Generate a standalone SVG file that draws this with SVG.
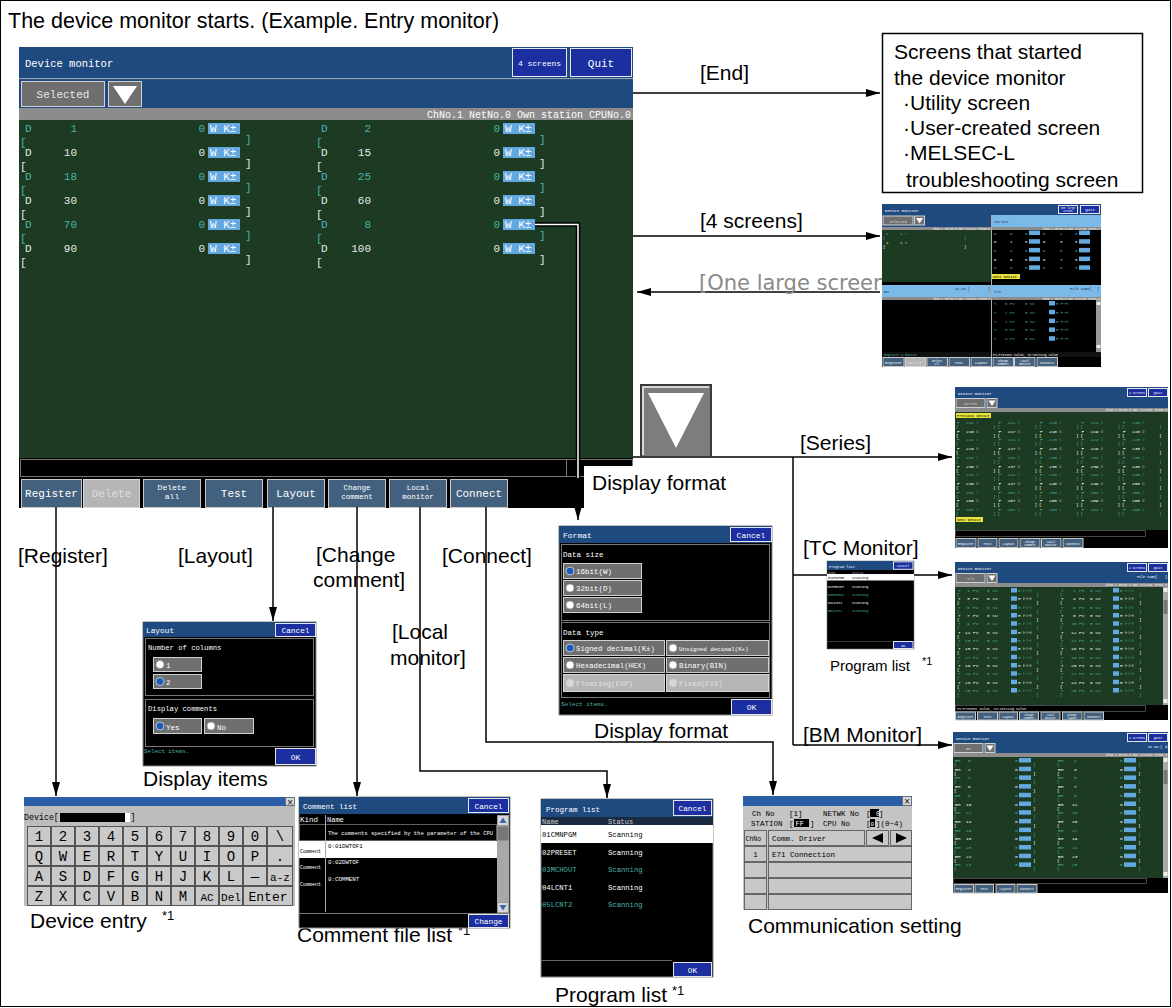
<svg xmlns="http://www.w3.org/2000/svg" width="1172" height="1008" viewBox="0 0 1172 1008">
<defs>
<style>
.l{font-family:"Liberation Sans",Arial,sans-serif;font-size:21px;fill:#000}
.sup{font-family:"Liberation Sans",Arial,sans-serif;font-size:13px;fill:#000}
.m{font-family:"Liberation Mono","DejaVu Sans Mono",monospace}
.w{fill:#fff}
.t{fill:#4db3a8}
.k{fill:#000}
.hd{fill:#1f4a80}
.bb{fill:#1c2fa0;stroke:#e6e6e6;stroke-width:1}
.sb{fill:#43617e;stroke:#c8c8c8;stroke-width:1}
.gb{fill:#6f6f6f;stroke:#d0d0d0;stroke-width:1}
.lg{fill:#b5b5b5;stroke:#d8d8d8;stroke-width:1}
.grn{fill:#1c3b22}
.vb{fill:#63a9e0}
.lb{fill:#7ab9e8}
.yl{fill:#e8e23c}
.gbar{fill:#8c8c8c}
.c{stroke:#000;stroke-width:1.5;fill:none}
.key{fill:#c9c9c9;stroke:#555;stroke-width:1}
.cell{fill:#c8c8c8;stroke:#666;stroke-width:1}
</style>
<marker id="ah" viewBox="0 0 14 8" refX="14" refY="4" markerWidth="14" markerHeight="8" markerUnits="userSpaceOnUse" orient="auto"><path d="M0,0 L14,4 L0,8 z" fill="#000"/></marker>
<g id="srow">
<text class="m" font-size="4.4"><tspan x="957" y="0">F</tspan><tspan x="976">○</tspan><tspan x="998.5">F</tspan><tspan x="1017.5">○</tspan><tspan x="1040">F</tspan><tspan x="1059">○</tspan><tspan x="1081.5">F</tspan><tspan x="1100.5">○</tspan><tspan x="1123">F</tspan><tspan x="1142">○</tspan><tspan x="956" y="4">[</tspan><tspan x="993">]</tspan><tspan x="997.5">[</tspan><tspan x="1034.5">]</tspan><tspan x="1039">[</tspan><tspan x="1076">]</tspan><tspan x="1080.5">[</tspan><tspan x="1117.5">]</tspan><tspan x="1122">[</tspan><tspan x="1159">]</tspan></text>
</g>
<g id="tcrow">
<rect x="1011" y="-4" width="6" height="4.5" class="vb"/>
<rect x="1113" y="-4" width="6" height="4.5" class="vb"/>
<text class="m" font-size="4.4"><tspan x="958" y="0">T</tspan><tspan x="973">PV</tspan><tspan x="987">0 SV</tspan><tspan x="1018">H ⊢○⊣</tspan><tspan x="1061">T</tspan><tspan x="1079">PV</tspan><tspan x="1090">0 SV</tspan><tspan x="1120">H ⊢○⊣</tspan><tspan x="957" y="4">[</tspan><tspan x="1036">]</tspan><tspan x="1060">[</tspan><tspan x="1139">]</tspan></text>
</g>
<g id="bmrow">
<rect x="1019" y="-4" width="12" height="4.5" class="vb"/>
<rect x="1124" y="-4" width="12" height="4.5" class="vb"/>
<text class="m" font-size="4.4"><tspan x="955" y="0">BM</tspan><tspan x="1015">0</tspan><tspan x="1058">BM</tspan><tspan x="1120">0</tspan><tspan x="954" y="4">[</tspan><tspan x="1033">]</tspan><tspan x="1057">[</tspan><tspan x="1138">]</tspan></text>
</g>
</defs>

<rect x="0" y="0" width="1172" height="1008" fill="#fff"/>
<rect x="0.5" y="0.5" width="1170" height="1006" fill="none" stroke="#000" stroke-width="1"/>

<g id="title">
<text x="8" y="28" class="l" style="font-size:21.5px">The device monitor starts. (Example. Entry monitor)</text>
</g>

<g id="main-screen">
<rect x="19" y="47" width="614" height="461" fill="#000"/>
<rect x="19" y="47" width="614" height="31" class="hd"/>
<text x="25" y="67" class="m w" font-size="10.5">Device monitor</text>
<rect x="512.5" y="48.5" width="54" height="28" class="bb"/>
<text x="539.5" y="66" class="m w" font-size="8" text-anchor="middle">4 screens</text>
<rect x="570.5" y="48.5" width="61" height="28" class="bb"/>
<text x="601" y="67" class="m w" font-size="11" text-anchor="middle">Quit</text>
<rect x="19" y="78" width="614" height="1.5" fill="#8fa6c0"/>
<rect x="19" y="79.5" width="614" height="28.5" class="hd"/>
<rect x="21.5" y="81.5" width="83" height="25" class="gb" stroke-width="1.5"/>
<text x="63" y="98" class="m" fill="#e8e8e8" font-size="11" text-anchor="middle">Selected</text>
<rect x="108.5" y="81.5" width="33" height="25" class="gb" stroke-width="1.5"/>
<polygon points="113,86 137,86 125,104" fill="#fff"/>
<rect x="19" y="108" width="614" height="12" class="gbar"/>
<text x="631" y="118" class="m w" font-size="10" text-anchor="end">ChNo.1 NetNo.0 Own station CPUNo.0</text>
<rect x="19" y="120" width="614" height="338" class="grn"/>
<g class="m" font-size="11">
<rect x="208" y="123" width="32" height="11" class="vb"/><rect x="503" y="123" width="32" height="11" class="vb"/>
<rect x="208" y="147" width="32" height="11" class="vb"/><rect x="503" y="147" width="32" height="11" class="vb"/>
<rect x="208" y="171" width="32" height="11" class="vb"/><rect x="503" y="171" width="32" height="11" class="vb"/>
<rect x="208" y="195" width="32" height="11" class="vb"/><rect x="503" y="195" width="32" height="11" class="vb"/>
<rect x="208" y="219" width="32" height="11" class="vb"/><rect x="503" y="219" width="32" height="11" class="vb"/>
<rect x="208" y="243" width="32" height="11" class="vb"/><rect x="503" y="243" width="32" height="11" class="vb"/>
<g class="w">
<text x="210" y="132">W K±</text><text x="505" y="132">W K±</text>
<text x="210" y="156">W K±</text><text x="505" y="156">W K±</text>
<text x="210" y="180">W K±</text><text x="505" y="180">W K±</text>
<text x="210" y="204">W K±</text><text x="505" y="204">W K±</text>
<text x="210" y="228">W K±</text><text x="505" y="228">W K±</text>
<text x="210" y="252">W K±</text><text x="505" y="252">W K±</text>
</g>
<g class="t">
<text x="25" y="132">D</text><text x="77" y="132" text-anchor="end">1</text><text x="205" y="132" text-anchor="end">0</text><text x="20" y="146">[</text><text x="245" y="143">]</text>
<text x="321" y="132">D</text><text x="371" y="132" text-anchor="end">2</text><text x="500" y="132" text-anchor="end">0</text><text x="316" y="146">[</text><text x="539" y="143">]</text>
<text x="25" y="180">D</text><text x="77" y="180" text-anchor="end">18</text><text x="205" y="180" text-anchor="end">0</text><text x="20" y="194">[</text><text x="245" y="191">]</text>
<text x="321" y="180">D</text><text x="371" y="180" text-anchor="end">25</text><text x="500" y="180" text-anchor="end">0</text><text x="316" y="194">[</text><text x="539" y="191">]</text>
<text x="25" y="228">D</text><text x="77" y="228" text-anchor="end">70</text><text x="205" y="228" text-anchor="end">0</text><text x="20" y="242">[</text><text x="245" y="239">]</text>
<text x="321" y="228">D</text><text x="371" y="228" text-anchor="end">8</text><text x="500" y="228" text-anchor="end">0</text><text x="316" y="242">[</text><text x="539" y="239">]</text>
</g>
<g fill="#e8e8e8">
<text x="25" y="156">D</text><text x="77" y="156" text-anchor="end">10</text><text x="205" y="156" text-anchor="end">0</text><text x="20" y="170">[</text><text x="245" y="167">]</text>
<text x="321" y="156">D</text><text x="371" y="156" text-anchor="end">15</text><text x="500" y="156" text-anchor="end">0</text><text x="316" y="170">[</text><text x="539" y="167">]</text>
<text x="25" y="204">D</text><text x="77" y="204" text-anchor="end">30</text><text x="205" y="204" text-anchor="end">0</text><text x="20" y="218">[</text><text x="245" y="215">]</text>
<text x="321" y="204">D</text><text x="371" y="204" text-anchor="end">60</text><text x="500" y="204" text-anchor="end">0</text><text x="316" y="218">[</text><text x="539" y="215">]</text>
<text x="25" y="252">D</text><text x="77" y="252" text-anchor="end">90</text><text x="205" y="252" text-anchor="end">0</text><text x="20" y="266">[</text><text x="245" y="263">]</text>
<text x="321" y="252">D</text><text x="371" y="252" text-anchor="end">100</text><text x="500" y="252" text-anchor="end">0</text><text x="316" y="266">[</text><text x="539" y="263">]</text>
</g>
</g>
<rect x="20.5" y="459.5" width="546" height="17" fill="#000" stroke="#777"/>
<rect x="566.5" y="459.5" width="66" height="17" fill="#000" stroke="#777"/>
<rect x="21.5" y="479.5" width="60" height="28" class="sb"/>
<rect x="83.5" y="479.5" width="56" height="28" class="lg"/>
<rect x="143.5" y="479.5" width="57" height="28" class="sb"/>
<rect x="205.5" y="479.5" width="57" height="28" class="sb"/>
<rect x="267.5" y="479.5" width="57" height="28" class="sb"/>
<rect x="328.5" y="479.5" width="57" height="28" class="sb"/>
<rect x="389.5" y="479.5" width="57" height="28" class="sb"/>
<rect x="450.5" y="479.5" width="57" height="28" class="sb"/>
<g class="m w" font-size="11" text-anchor="middle">
<text x="51.5" y="497">Register</text>
<text x="111.5" y="497" fill="#dedede">Delete</text>
<text x="172" y="490" font-size="8">Delete</text><text x="172" y="499" font-size="8">all</text>
<text x="234" y="497">Test</text>
<text x="296" y="497">Layout</text>
<text x="357" y="490" font-size="7.5">Change</text><text x="357" y="499" font-size="7.5">comment</text>
<text x="418" y="490" font-size="7.5">Local</text><text x="418" y="499" font-size="7.5">monitor</text>
<text x="479" y="497">Connect</text>
</g>
</g>

<g id="connectors">
<path class="c" d="M633,93 H880" marker-end="url(#ah)"/>
<path class="c" d="M633,236 H880" marker-end="url(#ah)"/>
<path class="c" d="M880,292 H637" marker-end="url(#ah)"/>
<path class="c" d="M633,457 H952" marker-end="url(#ah)"/>
<path class="c" d="M793,457 V745"/>
<path class="c" d="M793,575 H952" marker-end="url(#ah)"/>
<path class="c" d="M793,745 H952" marker-end="url(#ah)"/>
<path d="M535,224.5 H578 V478" fill="none" stroke="#000" stroke-width="4.5"/>
<path d="M535,224.5 H578 V478" fill="none" stroke="#fff" stroke-width="1.5"/>
<path class="c" d="M578,478 V520" marker-end="url(#ah)"/>
<path class="c" d="M56,507 V796" marker-end="url(#ah)"/>
<path class="c" d="M273,507 V621" marker-end="url(#ah)"/>
<path class="c" d="M357,507 V796" marker-end="url(#ah)"/>
<path class="c" d="M420,507 V771 H607 V798" marker-end="url(#ah)"/>
<path class="c" d="M486,507 V742 H773 V795" marker-end="url(#ah)"/>
</g>

<g id="labels">
<rect x="584" y="466" width="50" height="42" fill="#fff"/>
<text x="592" y="490" class="l">Display format</text>
<text x="700" y="80" class="l">[End]</text>
<text x="700" y="228" class="l">[4 screens]</text>
<text x="699" y="290" font-family="'DejaVu Sans',sans-serif" font-size="21" fill="#8a8a8a">[One large screen</text>
<text x="800" y="450" class="l">[Series]</text>
<text x="803" y="555" class="l">[TC Monitor]</text>
<text x="803" y="742" class="l">[BM Monitor]</text>
<text x="18" y="563" class="l">[Register]</text>
<text x="178" y="563" class="l">[Layout]</text>
<text x="316" y="562" class="l">[Change</text>
<text x="313" y="587" class="l">comment]</text>
<text x="442" y="563" class="l">[Connect]</text>
<text x="392" y="639" class="l">[Local</text>
<text x="390" y="665" class="l">monitor]</text>
<text x="830" y="671" class="l" style="font-size:15px">Program list</text><text x="922" y="665" class="sup" style="font-size:11px">*1</text>
<text x="143" y="786" class="l">Display items</text>
<text x="594" y="738" class="l">Display format</text>
<text x="30" y="928" class="l">Device entry</text><text x="162" y="920" class="sup">*1</text>
<text x="297" y="942" class="l">Comment file list</text><text x="458" y="935" class="sup">*1</text>
<text x="555" y="1002" class="l">Program list</text><text x="672" y="995" class="sup">*1</text>
<text x="748" y="933" class="l">Communication setting</text>
</g>

<g id="end-box">
<rect x="882.5" y="33.5" width="260" height="159" fill="#fff" stroke="#000" stroke-width="1.5"/>
<text x="894" y="59" class="l">Screens that started</text>
<text x="894" y="85" class="l">the device monitor</text>
<text x="903" y="110" class="l">·Utility screen</text>
<text x="903" y="135" class="l">·User-created screen</text>
<text x="903" y="160" class="l">·MELSEC-L</text>
<text x="906" y="187" class="l">troubleshooting screen</text>
</g>

<g id="four-screens">
<rect x="882" y="204" width="219" height="163" fill="#000"/>
<rect x="882" y="204" width="219" height="11" class="hd"/>
<text x="885" y="211.5" class="m w" font-size="4">Device monitor</text>
<rect x="1058.5" y="205.5" width="19" height="8" class="bb" stroke-width="0.5"/>
<text x="1068" y="209" class="m w" font-size="2.6" text-anchor="middle">One large</text><text x="1068" y="212" class="m w" font-size="2.6" text-anchor="middle">screen</text>
<rect x="1080.5" y="205.5" width="19" height="8" class="bb" stroke-width="0.5"/>
<text x="1090" y="211" class="m w" font-size="4" text-anchor="middle">Quit</text>
<rect x="882" y="215" width="109" height="12" class="hd"/>
<rect x="883" y="216" width="30" height="9" class="gb" stroke-width="0.5"/>
<text x="898" y="222.5" class="m" fill="#ddd" font-size="3.6" text-anchor="middle">Selected</text>
<rect x="914.5" y="216" width="10" height="9" class="gb" stroke-width="0.5"/>
<polygon points="916,218 923,218 919.5,223.5" fill="#fff"/>
<rect x="882" y="227" width="109" height="3" class="gbar"/>
<text x="990" y="229.6" class="m w" font-size="2.8" text-anchor="end">ChNo.1 NetNo.0 Own station CPUNo.0</text>
<rect x="882" y="230" width="109" height="52" class="grn"/>
<text x="886" y="234.5" class="m t" font-size="4">X</text><text x="900" y="234.5" class="m t" font-size="4">1 ○</text><text x="964" y="239" class="m t" font-size="4">]</text><text x="883" y="239" class="m t" font-size="4">[</text>
<text x="886" y="243.5" class="m w" font-size="4">X</text><text x="900" y="243.5" class="m w" font-size="4">2 ○</text><text x="964" y="248" class="m w" font-size="4">]</text><text x="883" y="248" class="m w" font-size="4">[</text>
<rect x="992" y="215" width="109" height="12" class="lb"/>
<text x="994" y="222.5" class="m" fill="#1f3050" font-size="4">Series</text>
<rect x="992" y="227" width="109" height="3" class="gbar"/>
<text x="1100" y="229.6" class="m w" font-size="2.8" text-anchor="end">ChNo.1 NetNo.0 Own station CPUNo.1</text>
<g class="m" font-size="4">
<rect x="1029" y="230.5" width="11" height="4.5" class="vb"/><rect x="1079" y="230.5" width="11" height="4.5" class="vb"/>
<rect x="1029" y="239.2" width="11" height="4.5" class="vb"/><rect x="1079" y="239.2" width="11" height="4.5" class="vb"/>
<rect x="1029" y="247.9" width="11" height="4.5" class="vb"/><rect x="1079" y="247.9" width="11" height="4.5" class="vb"/>
<rect x="1029" y="256.6" width="11" height="4.5" class="vb"/><rect x="1079" y="256.6" width="11" height="4.5" class="vb"/>
<rect x="1029" y="265.3" width="11" height="4.5" class="vb"/><rect x="1079" y="265.3" width="11" height="4.5" class="vb"/>
<text y="234.5" class="t"><tspan x="994">D</tspan><tspan x="1010">0</tspan><tspan x="1025">0</tspan><tspan x="1043">D</tspan><tspan x="1060">1</tspan><tspan x="1075">0</tspan></text>
<text y="243.2" class="w"><tspan x="994">D</tspan><tspan x="1010">2</tspan><tspan x="1025">0</tspan><tspan x="1043">D</tspan><tspan x="1060">3</tspan><tspan x="1075">0</tspan></text>
<text y="251.9" class="t"><tspan x="994">D</tspan><tspan x="1010">4</tspan><tspan x="1025">0</tspan><tspan x="1043">D</tspan><tspan x="1060">5</tspan><tspan x="1075">0</tspan></text>
<text y="260.6" class="w"><tspan x="994">D</tspan><tspan x="1010">6</tspan><tspan x="1025">0</tspan><tspan x="1043">D</tspan><tspan x="1060">7</tspan><tspan x="1075">0</tspan></text>
<text y="269.3" class="t"><tspan x="994">D</tspan><tspan x="1010">8</tspan><tspan x="1025">0</tspan><tspan x="1043">D</tspan><tspan x="1060">9</tspan><tspan x="1075">0</tspan></text>
</g>
<rect x="992" y="274" width="28" height="5" class="yl"/>
<text x="993" y="278" class="m k" font-size="3.6">Next Device</text>
<rect x="882" y="282" width="219" height="3" fill="#000"/>
<rect x="882" y="285" width="109" height="12" class="lb"/>
<text x="884" y="292.5" class="m" fill="#1f3050" font-size="4">BM</text>
<text x="970" y="290" class="m" fill="#1f3050" font-size="3.6" text-anchor="end">US No.[</text><text x="988" y="290" class="m" fill="#1f3050" font-size="3.6">]</text>
<rect x="882" y="297" width="109" height="3" class="gbar"/>
<text x="990" y="299.6" class="m w" font-size="2.8" text-anchor="end">ChNo.1 NetNo.0 Own station CPUNo.0</text>
<rect x="882" y="352" width="219" height="5" fill="#111"/>
<text x="884" y="356" class="m t" font-size="3.2">Register a device.</text>
<rect x="992" y="285" width="109" height="12" class="lb"/>
<text x="994" y="292.5" class="m" fill="#1f3050" font-size="4">T/C</text>
<text x="1070" y="290" class="m" fill="#1f3050" font-size="3.6">File name[</text><text x="1097" y="290" class="m" fill="#1f3050" font-size="3.6">]</text>
<rect x="992" y="297" width="109" height="3" class="gbar"/>
<text x="1100" y="299.6" class="m w" font-size="2.8" text-anchor="end">ChNo.1 NetNo.0 Own station CPUNo.0</text>
<rect x="1096" y="300" width="5" height="52" fill="#999"/>
<rect x="1096.5" y="302" width="4" height="3" fill="#eee"/><rect x="1096.5" y="345" width="4" height="3" fill="#eee"/>
<g class="m t" font-size="4">
<rect x="1049" y="301" width="6" height="4.5" class="vb"/><rect x="1049" y="309.8" width="6" height="4.5" class="vb"/><rect x="1049" y="318.6" width="6" height="4.5" class="vb"/><rect x="1049" y="327.4" width="6" height="4.5" class="vb"/><rect x="1049" y="336.2" width="6" height="4.5" class="vb"/>
<text y="305"><tspan x="994">T</tspan><tspan x="1005">0 PV</tspan><tspan x="1025">0 SV</tspan><tspan x="1056">H ⊢○⊣</tspan></text>
<text y="313.8"><tspan x="994">T</tspan><tspan x="1005">1 PV</tspan><tspan x="1025">0 SV</tspan><tspan x="1056">H ⊢○⊣</tspan></text>
<text y="322.6"><tspan x="994">T</tspan><tspan x="1005">2 PV</tspan><tspan x="1025">0 SV</tspan><tspan x="1056">H ⊢○⊣</tspan></text>
<text y="331.4"><tspan x="994">T</tspan><tspan x="1005">3 PV</tspan><tspan x="1025">0 SV</tspan><tspan x="1056">H ⊢○⊣</tspan></text>
<text y="340.2"><tspan x="994">T</tspan><tspan x="1005">4 PV</tspan><tspan x="1025">0 SV</tspan><tspan x="1056">H ⊢○⊣</tspan></text>
</g>
<text x="993" y="356" class="m w" font-size="3.2">PV:Present value, SV:Setting value</text>
<line x1="991.5" y1="215" x2="991.5" y2="357" stroke="#aaa" stroke-width="1"/>
<g stroke-width="0.5">
<rect x="883" y="357.5" width="21" height="9" class="sb"/><rect x="905" y="357.5" width="21" height="9" class="lg"/><rect x="927" y="357.5" width="20.5" height="9" class="sb"/><rect x="949" y="357.5" width="20.5" height="9" class="sb"/><rect x="971" y="357.5" width="20.5" height="9" class="sb"/><rect x="993" y="357.5" width="20.5" height="9" class="sb"/><rect x="1014.5" y="357.5" width="20.5" height="9" class="sb"/><rect x="1037" y="357.5" width="20.5" height="9" class="sb"/>
</g>
<g class="m w" font-size="3.5" text-anchor="middle">
<text x="893.5" y="363.5">Register</text><text x="915.5" y="363.5" fill="#ddd">Delete</text><text x="937" y="361.5" font-size="2.8">Delete</text><text x="937" y="365" font-size="2.8">all</text><text x="959" y="363.5">Test</text><text x="981" y="363.5">Layout</text><text x="1003" y="361.5" font-size="2.8">Change</text><text x="1003" y="365" font-size="2.8">comment</text><text x="1025" y="361.5" font-size="2.8">Local</text><text x="1025" y="365" font-size="2.8">monitor</text><text x="1047" y="363.5">Connect</text>
</g>
</g>

<g id="big-triangle-button">
<rect x="641" y="385" width="70" height="72" fill="#7d7d7d" stroke="#3a3a3a" stroke-width="2"/>
<path d="M643,455 V387 H709" fill="none" stroke="#d8d8d8" stroke-width="2"/>
<polygon points="648,393 704,393 676,448" fill="#fff"/>
</g>

<g id="series-screen">
<rect x="955" y="387" width="213" height="161" fill="#000"/>
<rect x="955" y="387" width="213" height="11" class="hd"/>
<text x="958" y="394.5" class="m w" font-size="4">Device monitor</text>
<rect x="1127.5" y="388.5" width="19" height="8" class="bb" stroke-width="0.5"/><text x="1137" y="394" class="m w" font-size="3" text-anchor="middle">4 screens</text>
<rect x="1148.5" y="388.5" width="19" height="8" class="bb" stroke-width="0.5"/><text x="1158" y="394" class="m w" font-size="3.6" text-anchor="middle">Quit</text>
<rect x="955" y="398" width="213" height="10" class="hd"/>
<rect x="956" y="398.5" width="29" height="9" class="gb" stroke-width="0.5"/><text x="970.5" y="404.5" class="m" fill="#ddd" font-size="3.8" text-anchor="middle">Series</text>
<rect x="987" y="398.5" width="10" height="9" class="gb" stroke-width="0.5"/><polygon points="988.5,400.5 995.5,400.5 992,406" fill="#fff"/>
<rect x="955" y="408" width="213" height="4" class="gbar"/>
<text x="1167" y="411.2" class="m w" font-size="3" text-anchor="end">ChNo.1 NetNo.0 Own station CPUNo.0</text>
<rect x="955" y="412" width="213" height="118" class="grn"/>
<rect x="956" y="413" width="35" height="5" class="yl"/><text x="957" y="417" class="m k" font-size="3.6">Previous Device</text>
<use href="#srow" y="424" class="t"/><use href="#srow" y="432.7" class="w"/><use href="#srow" y="441.4" class="t"/><use href="#srow" y="450.1" class="w"/><use href="#srow" y="458.8" class="t"/><use href="#srow" y="467.5" class="w"/><use href="#srow" y="476.2" class="t"/><use href="#srow" y="484.9" class="w"/><use href="#srow" y="493.6" class="t"/><use href="#srow" y="502.3" class="w"/><use href="#srow" y="511" class="t"/>
<g class="m" font-size="4.4">
<text y="424" class="t"><tspan x="966">211</tspan><tspan x="1007.5">212</tspan><tspan x="1049">213</tspan><tspan x="1090.5">214</tspan><tspan x="1132">215</tspan></text>
<text y="432.7" class="w"><tspan x="966">216</tspan><tspan x="1007.5">217</tspan><tspan x="1049">218</tspan><tspan x="1090.5">219</tspan><tspan x="1132">220</tspan></text>
<text y="441.4" class="t"><tspan x="966">221</tspan><tspan x="1007.5">222</tspan><tspan x="1049">223</tspan><tspan x="1090.5">224</tspan><tspan x="1132">225</tspan></text>
<text y="450.1" class="w"><tspan x="966">226</tspan><tspan x="1007.5">227</tspan><tspan x="1049">228</tspan><tspan x="1090.5">229</tspan><tspan x="1132">230</tspan></text>
<text y="458.8" class="t"><tspan x="966">231</tspan><tspan x="1007.5">232</tspan><tspan x="1049">233</tspan><tspan x="1090.5">234</tspan><tspan x="1132">235</tspan></text>
<text y="467.5" class="w"><tspan x="966">236</tspan><tspan x="1007.5">237</tspan><tspan x="1049">238</tspan><tspan x="1090.5">239</tspan><tspan x="1132">240</tspan></text>
<text y="476.2" class="t"><tspan x="966">241</tspan><tspan x="1007.5">242</tspan><tspan x="1049">243</tspan><tspan x="1090.5">244</tspan><tspan x="1132">245</tspan></text>
<text y="484.9" class="w"><tspan x="966">246</tspan><tspan x="1007.5">247</tspan><tspan x="1049">248</tspan><tspan x="1090.5">249</tspan><tspan x="1132">250</tspan></text>
<text y="493.6" class="t"><tspan x="966">251</tspan><tspan x="1007.5">252</tspan><tspan x="1049">253</tspan><tspan x="1090.5">254</tspan><tspan x="1132">255</tspan></text>
<text y="502.3" class="w"><tspan x="966">256</tspan><tspan x="1007.5">257</tspan><tspan x="1049">258</tspan><tspan x="1090.5">259</tspan><tspan x="1132">260</tspan></text>
<text y="511" class="t"><tspan x="966">261</tspan><tspan x="1007.5">262</tspan><tspan x="1049">263</tspan><tspan x="1090.5">264</tspan><tspan x="1132">265</tspan></text>
</g>
<rect x="956" y="517" width="27" height="5" class="yl"/><text x="957" y="521" class="m k" font-size="3.6">Next Device</text>
<rect x="955.5" y="530.5" width="190" height="6" fill="#000" stroke="#777" stroke-width="0.6"/>
<g stroke-width="0.5">
<rect x="956" y="538.5" width="20" height="9" class="sb"/><rect x="978" y="538.5" width="19" height="9" class="sb"/><rect x="999" y="538.5" width="19" height="9" class="sb"/><rect x="1020" y="538.5" width="20" height="9" class="sb"/><rect x="1041.5" y="538.5" width="19.5" height="9" class="sb"/><rect x="1063" y="538.5" width="20" height="9" class="sb"/>
</g>
<g class="m w" font-size="3.4" text-anchor="middle">
<text x="966" y="544.5">Register</text><text x="987.5" y="544.5">Test</text><text x="1008.5" y="544.5">Layout</text><text x="1030" y="542.5" font-size="2.7">Change</text><text x="1030" y="546" font-size="2.7">comment</text><text x="1051" y="542.5" font-size="2.7">Local</text><text x="1051" y="546" font-size="2.7">monitor</text><text x="1073" y="544.5">Connect</text>
</g>
</g>

<g id="tc-screen">
<rect x="955" y="562" width="213" height="158" fill="#000"/>
<rect x="955" y="562" width="213" height="11" class="hd"/>
<text x="958" y="569.5" class="m w" font-size="4">Device monitor</text>
<rect x="1127.5" y="563.5" width="19" height="8" class="bb" stroke-width="0.5"/><text x="1137" y="569" class="m w" font-size="3" text-anchor="middle">4 screens</text>
<rect x="1148.5" y="563.5" width="19" height="8" class="bb" stroke-width="0.5"/><text x="1158" y="569" class="m w" font-size="3.6" text-anchor="middle">Quit</text>
<rect x="955" y="573" width="213" height="10" class="hd"/>
<rect x="956" y="573.5" width="29" height="9" class="gb" stroke-width="0.5"/><text x="970.5" y="579.5" class="m" fill="#ddd" font-size="3.8" text-anchor="middle">T/C</text>
<rect x="987" y="573.5" width="10" height="9" class="gb" stroke-width="0.5"/><polygon points="988.5,575.5 995.5,575.5 992,581" fill="#fff"/>
<text x="1137" y="578" class="m w" font-size="3.4">File name[</text><text x="1165" y="578" class="m w" font-size="3.4">]</text>
<rect x="955" y="583" width="213" height="4" class="gbar"/>
<text x="1167" y="586.2" class="m w" font-size="3" text-anchor="end">ChNo.1 NetNo.0 Own station CPUNo.0</text>
<rect x="955" y="587" width="208" height="118" class="grn"/>
<rect x="1163" y="587" width="5" height="118" fill="#aaa"/>
<rect x="1163.5" y="588" width="4" height="4" fill="#eee"/><rect x="1163.5" y="600" width="4" height="14" fill="#777"/><rect x="1163.5" y="699" width="4" height="4" fill="#eee"/>
<use href="#tcrow" y="592" class="t"/><use href="#tcrow" y="600.3" class="w"/><use href="#tcrow" y="608.7" class="t"/><use href="#tcrow" y="617" class="w"/><use href="#tcrow" y="625.3" class="t"/><use href="#tcrow" y="633.7" class="w"/><use href="#tcrow" y="642" class="t"/><use href="#tcrow" y="650.3" class="w"/><use href="#tcrow" y="658.7" class="t"/><use href="#tcrow" y="667" class="w"/><use href="#tcrow" y="675.3" class="t"/><use href="#tcrow" y="683.7" class="w"/><use href="#tcrow" y="692" class="t"/>
<g class="m" font-size="4.4">
<text y="592" class="t"><tspan x="967">1</tspan><tspan x="1073">2</tspan></text>
<text y="600.3" class="w"><tspan x="967">3</tspan><tspan x="1073">4</tspan></text>
<text y="608.7" class="t"><tspan x="967">5</tspan><tspan x="1073">6</tspan></text>
<text y="617" class="w"><tspan x="967">7</tspan><tspan x="1073">8</tspan></text>
<text y="625.3" class="t"><tspan x="967">9</tspan><tspan x="1071">10</tspan></text>
<text y="633.7" class="w"><tspan x="965">11</tspan><tspan x="1071">12</tspan></text>
<text y="642" class="t"><tspan x="965">13</tspan><tspan x="1071">14</tspan></text>
<text y="650.3" class="w"><tspan x="965">15</tspan><tspan x="1071">16</tspan></text>
<text y="658.7" class="t"><tspan x="965">17</tspan><tspan x="1071">18</tspan></text>
<text y="667" class="w"><tspan x="965">19</tspan><tspan x="1071">20</tspan></text>
<text y="675.3" class="t"><tspan x="965">21</tspan><tspan x="1071">22</tspan></text>
<text y="683.7" class="w"><tspan x="965">23</tspan><tspan x="1071">24</tspan></text>
<text y="692" class="t"><tspan x="965">25</tspan><tspan x="1071">26</tspan></text>
</g>
<rect x="955.5" y="705.5" width="190" height="6" fill="#000" stroke="#777" stroke-width="0.6"/>
<text x="957" y="710" class="m w" font-size="3.4">PV:Present value, SV:Setting value</text>
<g stroke-width="0.5">
<rect x="955.5" y="712" width="20" height="8" class="sb"/><rect x="977.5" y="712" width="20" height="8" class="sb"/><rect x="999" y="712" width="18.5" height="8" class="sb"/><rect x="1019.5" y="712" width="19" height="8" class="sb"/><rect x="1041" y="712" width="19" height="8" class="sb"/><rect x="1062.5" y="712" width="19.5" height="8" class="sb"/><rect x="1084" y="712" width="19.5" height="8" class="sb"/>
</g>
<g class="m w" font-size="3.3" text-anchor="middle">
<text x="965.5" y="717.5">Register</text><text x="987.5" y="717.5">Test</text><text x="1008" y="717.5">Layout</text><text x="1029" y="715.5" font-size="2.6">Change</text><text x="1029" y="719" font-size="2.6">comment</text><text x="1050.5" y="715.5" font-size="2.6">Local</text><text x="1050.5" y="719" font-size="2.6">monitor</text><text x="1072" y="715.5" font-size="2.6">Change</text><text x="1072" y="719" font-size="2.6">layout</text><text x="1094" y="717.5">Connect</text>
</g>
</g>

<g id="bm-screen">
<rect x="953" y="732" width="215" height="161" fill="#000"/>
<rect x="953" y="732" width="215" height="11" class="hd"/>
<text x="956" y="739.5" class="m w" font-size="4">Device monitor</text>
<rect x="1127.5" y="733.5" width="19" height="8" class="bb" stroke-width="0.5"/><text x="1137" y="739" class="m w" font-size="3" text-anchor="middle">4 screens</text>
<rect x="1148.5" y="733.5" width="19" height="8" class="bb" stroke-width="0.5"/><text x="1158" y="739" class="m w" font-size="3.6" text-anchor="middle">Quit</text>
<rect x="953" y="743" width="215" height="10" class="hd"/>
<rect x="954" y="743.5" width="29" height="9" class="gb" stroke-width="0.5"/><text x="968.5" y="749.5" class="m" fill="#ddd" font-size="3.8" text-anchor="middle">BM</text>
<rect x="985" y="743.5" width="10" height="9" class="gb" stroke-width="0.5"/><polygon points="986.5,745.5 993.5,745.5 990,751" fill="#fff"/>
<text x="1148" y="748" class="m w" font-size="3.4">US No.[</text><text x="1165" y="748" class="m w" font-size="3.4">0]</text>
<rect x="953" y="753" width="215" height="4" class="gbar"/>
<text x="1167" y="756.2" class="m w" font-size="3" text-anchor="end">ChNo.1 NetNo.0 Own station CPUNo.0</text>
<rect x="953" y="757" width="210" height="121" class="grn"/>
<rect x="1163" y="757" width="5" height="121" fill="#aaa"/>
<rect x="1163.5" y="758" width="4" height="4" fill="#eee"/><rect x="1163.5" y="770" width="4" height="14" fill="#777"/><rect x="1163.5" y="872" width="4" height="4" fill="#eee"/>
<use href="#bmrow" y="762" class="t"/><use href="#bmrow" y="770.7" class="w"/><use href="#bmrow" y="779.4" class="t"/><use href="#bmrow" y="788.1" class="w"/><use href="#bmrow" y="796.8" class="t"/><use href="#bmrow" y="805.5" class="w"/><use href="#bmrow" y="814.2" class="t"/><use href="#bmrow" y="822.9" class="w"/><use href="#bmrow" y="831.6" class="t"/><use href="#bmrow" y="840.3" class="w"/><use href="#bmrow" y="849" class="t"/><use href="#bmrow" y="857.7" class="w"/><use href="#bmrow" y="866.4" class="t"/>
<g class="m" font-size="4.4">
<text y="762" class="t"><tspan x="968">0</tspan><tspan x="1074">1</tspan></text>
<text y="770.7" class="w"><tspan x="968">2</tspan><tspan x="1074">3</tspan></text>
<text y="779.4" class="t"><tspan x="968">4</tspan><tspan x="1074">5</tspan></text>
<text y="788.1" class="w"><tspan x="968">6</tspan><tspan x="1074">7</tspan></text>
<text y="796.8" class="t"><tspan x="968">8</tspan><tspan x="1074">9</tspan></text>
<text y="805.5" class="w"><tspan x="966">10</tspan><tspan x="1072">11</tspan></text>
<text y="814.2" class="t"><tspan x="966">12</tspan><tspan x="1072">13</tspan></text>
<text y="822.9" class="w"><tspan x="966">14</tspan><tspan x="1072">15</tspan></text>
<text y="831.6" class="t"><tspan x="966">16</tspan><tspan x="1072">17</tspan></text>
<text y="840.3" class="w"><tspan x="966">18</tspan><tspan x="1072">19</tspan></text>
<text y="849" class="t"><tspan x="966">20</tspan><tspan x="1072">21</tspan></text>
<text y="857.7" class="w"><tspan x="966">22</tspan><tspan x="1072">23</tspan></text>
<text y="866.4" class="t"><tspan x="966">24</tspan><tspan x="1072">25</tspan></text>
</g>
<rect x="953.5" y="878.5" width="193" height="5" fill="#000" stroke="#777" stroke-width="0.6"/>
<g stroke-width="0.5">
<rect x="954" y="884.5" width="19.5" height="8.5" class="sb"/><rect x="975" y="884.5" width="18.5" height="8.5" class="sb"/><rect x="996" y="884.5" width="19" height="8.5" class="sb"/><rect x="1017" y="884.5" width="20" height="8.5" class="sb"/>
</g>
<g class="m w" font-size="3.3" text-anchor="middle">
<text x="963.7" y="890">Register</text><text x="984.2" y="890">Test</text><text x="1005.5" y="890">Layout</text><text x="1027" y="890">Connect</text>
</g>
</g>

<g id="program-list-small">
<rect x="827" y="561" width="87" height="88" fill="#000" stroke="#777" stroke-width="0.6"/>
<rect x="827" y="561" width="87" height="9" class="hd"/>
<text x="829" y="567.5" class="m w" font-size="3.6">Program list</text>
<rect x="893.5" y="561.8" width="19.5" height="7.5" class="bb" stroke-width="0.5"/><text x="903.2" y="567" class="m w" font-size="3.4" text-anchor="middle">Cancel</text>
<text x="828" y="573.5" class="m" fill="#aaa" font-size="3.2">Name</text><text x="852" y="573.5" class="m" fill="#aaa" font-size="3.2">Status</text>
<rect x="827" y="574" width="87" height="6.5" fill="#fff"/>
<text x="828" y="579" class="m k" font-size="3.4">01CMNPGM</text><text x="852" y="579" class="m k" font-size="3.4">Scanning</text>
<text x="828" y="587.5" class="m w" font-size="3.4">02PRESET</text><text x="852" y="587.5" class="m w" font-size="3.4">Scanning</text>
<text x="828" y="595.8" class="m t" font-size="3.4">03MCHOUT</text><text x="852" y="595.8" class="m t" font-size="3.4">Scanning</text>
<text x="828" y="604" class="m w" font-size="3.4">04LCNT1</text><text x="852" y="604" class="m w" font-size="3.4">Scanning</text>
<text x="828" y="612.3" class="m t" font-size="3.4">05LCNT2</text><text x="852" y="612.3" class="m t" font-size="3.4">Scanning</text>
<line x1="827" y1="641.5" x2="892" y2="641.5" stroke="#666" stroke-width="0.6"/>
<rect x="893.5" y="641.5" width="19.5" height="7" class="bb" stroke-width="0.5"/><text x="903.2" y="646.5" class="m w" font-size="3.4" text-anchor="middle">OK</text>
</g>

<g id="format-dialog">
<rect x="559" y="526" width="213" height="189" fill="#000" stroke="#888"/>
<rect x="559" y="526" width="213" height="17" class="hd"/>
<text x="563" y="538" class="m w" font-size="8">Format</text>
<rect x="730.5" y="527.5" width="41" height="14" class="bb"/>
<text x="751" y="537.5" class="m w" font-size="8" text-anchor="middle">Cancel</text>
<rect x="561.5" y="544.5" width="208" height="76" fill="none" stroke="#777"/>
<text x="563" y="557" class="m w" font-size="7.5">Data size</text>
<rect x="563.5" y="563.5" width="78" height="15" class="gb"/>
<circle cx="570" cy="571" r="4" fill="#1a5ab8" stroke="#ddd" stroke-width="0.8"/>
<text x="576" y="574" class="m w" font-size="7.5">16bit(W)</text>
<rect x="563.5" y="580.5" width="78" height="15" class="gb"/>
<circle cx="570" cy="588" r="4" fill="#fff" stroke="#999" stroke-width="0.8"/>
<text x="576" y="591" class="m w" font-size="7.5">32bit(D)</text>
<rect x="563.5" y="597.5" width="78" height="15" class="gb"/>
<circle cx="570" cy="605" r="4" fill="#fff" stroke="#999" stroke-width="0.8"/>
<text x="576" y="608" class="m w" font-size="7.5">64bit(L)</text>
<rect x="561.5" y="622.5" width="208" height="75" fill="none" stroke="#777"/>
<text x="563" y="635" class="m w" font-size="7.5">Data type</text>
<rect x="563.5" y="640.5" width="101" height="15" class="gb"/>
<circle cx="570" cy="648" r="4" fill="#1a5ab8" stroke="#ddd" stroke-width="0.8"/>
<text x="576" y="651" class="m w" font-size="7.3">Signed decimal(K±)</text>
<rect x="666.5" y="640.5" width="102" height="15" class="gb"/>
<circle cx="673" cy="648" r="4" fill="#fff" stroke="#999" stroke-width="0.8"/>
<text x="679" y="650.5" class="m w" font-size="5.8">Unsigned decimal(K+)</text>
<rect x="563.5" y="657.5" width="101" height="15" class="gb"/>
<circle cx="570" cy="665" r="4" fill="#fff" stroke="#999" stroke-width="0.8"/>
<text x="576" y="668" class="m w" font-size="7.3">Hexadecimal(HEX)</text>
<rect x="666.5" y="657.5" width="102" height="15" class="gb"/>
<circle cx="673" cy="665" r="4" fill="#fff" stroke="#999" stroke-width="0.8"/>
<text x="679" y="668" class="m w" font-size="7.3">Binary(BIN)</text>
<rect x="563.5" y="674.5" width="101" height="17" class="lg"/>
<circle cx="570" cy="683" r="4" fill="#d8d8d8" stroke="#c8c8c8" stroke-width="0.8"/>
<text x="576" y="686" class="m" fill="#e2e2e2" font-size="7.3">Floating(EXP)</text>
<rect x="666.5" y="674.5" width="102" height="17" class="lg"/>
<circle cx="673" cy="683" r="4" fill="#d8d8d8" stroke="#c8c8c8" stroke-width="0.8"/>
<text x="679" y="686" class="m" fill="#e2e2e2" font-size="7.3">Fixed(FIX)</text>
<text x="561" y="706" class="m t" font-size="6">Select items.</text>
<rect x="731.5" y="699.5" width="40" height="15" class="bb"/>
<text x="751.5" y="710" class="m w" font-size="8" text-anchor="middle">OK</text>
</g>

<g id="layout-dialog">
<rect x="143" y="622" width="173" height="144" fill="#000" stroke="#888"/>
<rect x="143" y="622" width="173" height="15" class="hd"/>
<text x="146" y="633" class="m w" font-size="7.8">Layout</text>
<rect x="275.5" y="623.5" width="40" height="13" class="bb"/>
<text x="295.5" y="633" class="m w" font-size="7.8" text-anchor="middle">Cancel</text>
<rect x="145.5" y="638.5" width="168" height="57" fill="none" stroke="#777"/>
<text x="148" y="650" class="m w" font-size="7.2">Number of columns</text>
<rect x="153.5" y="657.5" width="48" height="14" class="gb"/>
<circle cx="160" cy="664.5" r="4" fill="#fff" stroke="#999" stroke-width="0.8"/>
<text x="166" y="668" class="m w" font-size="7.5">1</text>
<rect x="153.5" y="674.5" width="48" height="14" class="gb"/>
<circle cx="160" cy="681.5" r="4" fill="#1a5ab8" stroke="#ddd" stroke-width="0.8"/>
<text x="166" y="685" class="m w" font-size="7.5">2</text>
<rect x="145.5" y="699.5" width="168" height="47" fill="none" stroke="#777"/>
<text x="148" y="711" class="m w" font-size="7.2">Display comments</text>
<rect x="153.5" y="718.5" width="48" height="15" class="gb"/>
<circle cx="160" cy="726" r="4" fill="#1a5ab8" stroke="#ddd" stroke-width="0.8"/>
<text x="166" y="729.5" class="m w" font-size="7.5">Yes</text>
<rect x="204.5" y="718.5" width="49" height="15" class="gb"/>
<circle cx="211" cy="726" r="4" fill="#fff" stroke="#999" stroke-width="0.8"/>
<text x="217" y="729.5" class="m w" font-size="7.5">No</text>
<text x="144" y="753" class="m t" font-size="5.8">Select items.</text>
<rect x="275.5" y="748.5" width="40" height="16" class="bb"/>
<text x="295.5" y="760" class="m w" font-size="8" text-anchor="middle">OK</text>
</g>

<g id="device-entry">
<rect x="24" y="797" width="271" height="109" fill="#bdbdbd"/>
<rect x="24" y="797" width="271" height="9" fill="#2a5fa8"/>
<rect x="285.5" y="797.5" width="9" height="8" fill="#d8d8d8" stroke="#555" stroke-width="0.6"/>
<text x="290" y="804.5" font-family="'DejaVu Sans',sans-serif" font-size="8" text-anchor="middle" fill="#000">×</text>
<text x="24" y="820" class="m k" font-size="8.3">Device[</text>
<rect x="60" y="813" width="65" height="9" fill="#000"/>
<rect x="125" y="813" width="5" height="9" fill="#fff"/>
<text x="130.5" y="820" class="m k" font-size="8.3">]</text>
<g>
<rect x="27.5" y="826.5" width="23" height="19" class="key"/><rect x="51.5" y="826.5" width="23" height="19" class="key"/><rect x="75.5" y="826.5" width="23" height="19" class="key"/><rect x="99.5" y="826.5" width="23" height="19" class="key"/><rect x="123.5" y="826.5" width="23" height="19" class="key"/><rect x="147.5" y="826.5" width="23" height="19" class="key"/><rect x="171.5" y="826.5" width="23" height="19" class="key"/><rect x="195.5" y="826.5" width="23" height="19" class="key"/><rect x="219.5" y="826.5" width="23" height="19" class="key"/><rect x="243.5" y="826.5" width="23" height="19" class="key"/><rect x="267.5" y="826.5" width="25" height="19" class="key"/>
<rect x="27.5" y="846.5" width="23" height="19" class="key"/><rect x="51.5" y="846.5" width="23" height="19" class="key"/><rect x="75.5" y="846.5" width="23" height="19" class="key"/><rect x="99.5" y="846.5" width="23" height="19" class="key"/><rect x="123.5" y="846.5" width="23" height="19" class="key"/><rect x="147.5" y="846.5" width="23" height="19" class="key"/><rect x="171.5" y="846.5" width="23" height="19" class="key"/><rect x="195.5" y="846.5" width="23" height="19" class="key"/><rect x="219.5" y="846.5" width="23" height="19" class="key"/><rect x="243.5" y="846.5" width="23" height="19" class="key"/><rect x="267.5" y="846.5" width="25" height="19" class="key"/>
<rect x="27.5" y="866.5" width="23" height="19" class="key"/><rect x="51.5" y="866.5" width="23" height="19" class="key"/><rect x="75.5" y="866.5" width="23" height="19" class="key"/><rect x="99.5" y="866.5" width="23" height="19" class="key"/><rect x="123.5" y="866.5" width="23" height="19" class="key"/><rect x="147.5" y="866.5" width="23" height="19" class="key"/><rect x="171.5" y="866.5" width="23" height="19" class="key"/><rect x="195.5" y="866.5" width="23" height="19" class="key"/><rect x="219.5" y="866.5" width="23" height="19" class="key"/><rect x="243.5" y="866.5" width="23" height="19" class="key"/><rect x="267.5" y="866.5" width="25" height="19" class="key"/>
<rect x="27.5" y="886.5" width="23" height="19" class="key"/><rect x="51.5" y="886.5" width="23" height="19" class="key"/><rect x="75.5" y="886.5" width="23" height="19" class="key"/><rect x="99.5" y="886.5" width="23" height="19" class="key"/><rect x="123.5" y="886.5" width="23" height="19" class="key"/><rect x="147.5" y="886.5" width="23" height="19" class="key"/><rect x="171.5" y="886.5" width="23" height="19" class="key"/><rect x="195.5" y="886.5" width="23" height="19" class="key"/><rect x="219.5" y="886.5" width="23" height="19" class="key"/><rect x="243.5" y="886.5" width="49" height="19" class="key"/>
</g>
<g class="m k" font-size="14" text-anchor="middle">
<text y="841"><tspan x="39">1</tspan><tspan x="63">2</tspan><tspan x="87">3</tspan><tspan x="111">4</tspan><tspan x="135">5</tspan><tspan x="159">6</tspan><tspan x="183">7</tspan><tspan x="207">8</tspan><tspan x="231">9</tspan><tspan x="255">0</tspan><tspan x="280">\</tspan></text>
<text y="861"><tspan x="39">Q</tspan><tspan x="63">W</tspan><tspan x="87">E</tspan><tspan x="111">R</tspan><tspan x="135">T</tspan><tspan x="159">Y</tspan><tspan x="183">U</tspan><tspan x="207">I</tspan><tspan x="231">O</tspan><tspan x="255">P</tspan><tspan x="280">.</tspan></text>
<text y="881"><tspan x="39">A</tspan><tspan x="63">S</tspan><tspan x="87">D</tspan><tspan x="111">F</tspan><tspan x="135">G</tspan><tspan x="159">H</tspan><tspan x="183">J</tspan><tspan x="207">K</tspan><tspan x="231">L</tspan><tspan x="255">—</tspan></text>
<text x="280" y="881" font-size="11">a-z</text>
<text y="901"><tspan x="39">Z</tspan><tspan x="63">X</tspan><tspan x="87">C</tspan><tspan x="111">V</tspan><tspan x="135">B</tspan><tspan x="159">N</tspan><tspan x="183">M</tspan></text>
<text x="207" y="900.5" font-size="11">AC</text><text x="231" y="900.5" font-size="11">Del</text><text x="268" y="900.5" font-size="13">Enter</text>
</g>
</g>

<g id="comment-list">
<rect x="299" y="797" width="211" height="131" fill="#000" stroke="#888"/>
<rect x="299" y="797" width="211" height="17" class="hd"/>
<text x="303" y="809" class="m w" font-size="7.5">Comment list</text>
<rect x="468.5" y="798.5" width="40" height="14" class="bb"/>
<text x="488.5" y="808.5" class="m w" font-size="7.8" text-anchor="middle">Cancel</text>
<text x="300" y="822" class="m w" font-size="7.5">Kind</text>
<text x="327" y="822" class="m w" font-size="7">Name</text>
<rect x="299.5" y="824.5" width="197" height="16" fill="#000" stroke="#777" stroke-width="0.8"/>
<text x="328" y="835" class="m w" font-size="5.5">The comments specified by the parameter of the CPU</text>
<rect x="299" y="841" width="198" height="17" fill="#fff"/>
<text x="300" y="853" class="m k" font-size="5">Comment</text>
<text x="328" y="848" class="m k" font-size="5.8">0:01DWTOF1</text>
<line x1="325.5" y1="815" x2="325.5" y2="912" stroke="#aaa" stroke-width="1"/>
<text x="300" y="869" class="m w" font-size="5">Comment</text>
<text x="328" y="864" class="m w" font-size="5.8">0:02DWTOF</text>
<text x="300" y="886" class="m w" font-size="5">Comment</text>
<text x="328" y="881" class="m w" font-size="5.8">0:COMMENT</text>
<rect x="497" y="815" width="12" height="98" fill="#a8a8a8"/>
<rect x="497.5" y="815.5" width="11" height="10" fill="#d8d8d8" stroke="#777" stroke-width="0.5"/>
<polygon points="499.5,823 506.5,823 503,817.5" fill="#3a66b0"/>
<rect x="497.5" y="826.5" width="11" height="14" fill="#777"/>
<rect x="497.5" y="902.5" width="11" height="10" fill="#d8d8d8" stroke="#777" stroke-width="0.5"/>
<polygon points="499.5,905 506.5,905 503,910.5" fill="#3a66b0"/>
<line x1="299" y1="913.5" x2="510" y2="913.5" stroke="#777" stroke-width="1"/>
<rect x="468.5" y="914.5" width="40" height="13" class="bb"/>
<text x="488.5" y="924" class="m w" font-size="7.8" text-anchor="middle">Change</text>
</g>

<g id="program-list">
<rect x="541" y="799" width="172" height="178" fill="#000" stroke="#888"/>
<rect x="541" y="799" width="172" height="18" class="hd"/>
<text x="546" y="811.5" class="m w" font-size="7.5">Program list</text>
<rect x="673.5" y="800.5" width="38" height="15" class="bb"/>
<text x="692.5" y="811" class="m w" font-size="7.8" text-anchor="middle">Cancel</text>
<rect x="541" y="817" width="172" height="8" fill="#1a2a40"/>
<text x="542" y="824" class="m" fill="#ccc" font-size="7">Name</text><text x="608" y="824" class="m" fill="#ccc" font-size="7">Status</text>
<rect x="541" y="825" width="172" height="18" fill="#fff"/>
<text x="542" y="837" class="m k" font-size="7.2">01CMNPGM</text><text x="608" y="837" class="m k" font-size="7.2">Scanning</text>
<text x="542" y="855" class="m w" font-size="7.2">02PRESET</text><text x="608" y="855" class="m w" font-size="7.2">Scanning</text>
<text x="542" y="872" class="m t" font-size="7.2">03MCHOUT</text><text x="608" y="872" class="m t" font-size="7.2">Scanning</text>
<text x="542" y="890" class="m w" font-size="7.2">04LCNT1</text><text x="608" y="890" class="m w" font-size="7.2">Scanning</text>
<text x="542" y="907" class="m t" font-size="7.2">05LCNT2</text><text x="608" y="907" class="m t" font-size="7.2">Scanning</text>
<line x1="541" y1="960.5" x2="672" y2="960.5" stroke="#666" stroke-width="1"/>
<rect x="673.5" y="962.5" width="38" height="14" class="bb"/>
<text x="692.5" y="972.5" class="m w" font-size="7.8" text-anchor="middle">OK</text>
</g>

<g id="communication-setting">
<rect x="743" y="796" width="169" height="114" fill="#c4c4c4"/>
<rect x="743" y="796" width="169" height="10" fill="#2a5fa8"/>
<rect x="902.5" y="796.5" width="9" height="9" fill="#d8d8d8" stroke="#555" stroke-width="0.6"/>
<text x="907" y="804" font-family="'DejaVu Sans',sans-serif" font-size="8" text-anchor="middle" fill="#000">×</text>
<g class="m k" font-size="7.5">
<text x="752" y="816">Ch No</text><text x="789" y="816">[1]</text><text x="823" y="816">NETWK No</text><text x="866" y="816">[</text>
<text x="751" y="826">STATION</text><text x="789" y="826">[</text><text x="810" y="826">]</text><text x="823" y="826">CPU No</text><text x="866" y="826">[</text><text x="876" y="826">](0~4)</text>
<text x="879" y="816">]</text>
</g>
<rect x="870" y="809" width="9" height="8" fill="#000"/><text x="876" y="816" class="m w" font-size="7">0</text>
<rect x="794" y="819" width="15" height="8" fill="#000"/><text x="795.5" y="826" class="m w" font-size="7">FF</text>
<rect x="870" y="819" width="5" height="8" fill="#000"/><text x="870.5" y="826" class="m w" font-size="6">0</text>
<rect x="744.5" y="830.5" width="22" height="15" class="cell"/><rect x="768.5" y="830.5" width="96" height="15" class="cell"/><rect x="866.5" y="830.5" width="22" height="15" class="cell"/><rect x="890.5" y="830.5" width="21" height="15" class="cell"/>
<rect x="744.5" y="846.5" width="22" height="15" class="cell"/><rect x="768.5" y="846.5" width="143" height="15" class="cell"/>
<rect x="744.5" y="862.5" width="22" height="15" class="cell"/><rect x="768.5" y="862.5" width="143" height="15" class="cell"/>
<rect x="744.5" y="878.5" width="22" height="15" class="cell"/><rect x="768.5" y="878.5" width="143" height="15" class="cell"/>
<rect x="744.5" y="894.5" width="22" height="15" class="cell"/><rect x="768.5" y="894.5" width="143" height="15" class="cell"/>
<text x="745.5" y="841" class="m k" font-size="6.5">ChNo</text>
<text x="772" y="841" class="m k" font-size="7.5">Comm. Driver</text>
<polygon points="883,833 883,843 872,838" fill="#000"/>
<polygon points="896,833 896,843 907,838" fill="#000"/>
<text x="755.5" y="857" class="m k" font-size="7.5" text-anchor="middle">1</text>
<text x="772" y="857" class="m k" font-size="7.5">E71 Connection</text>
</g>
</svg>
